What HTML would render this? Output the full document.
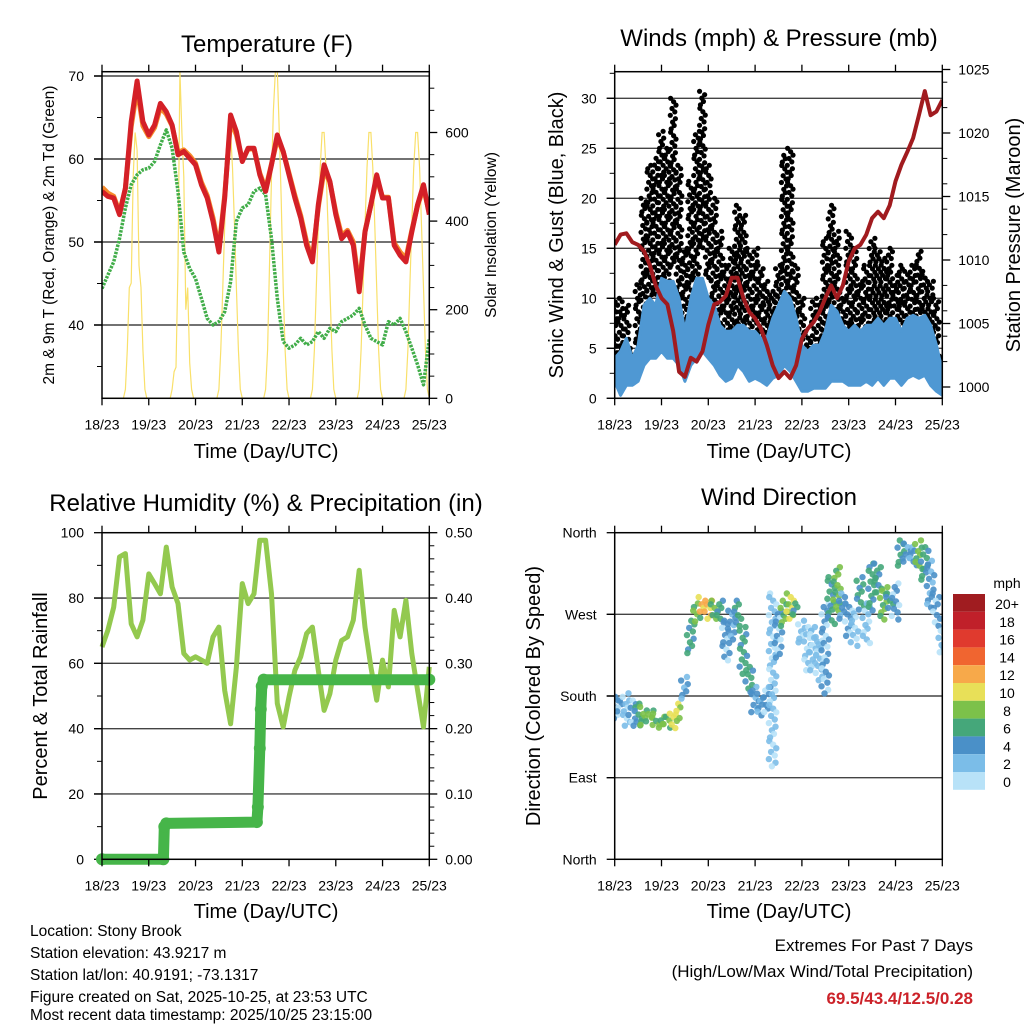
<!DOCTYPE html>
<html><head><meta charset="utf-8"><style>
html,body{margin:0;padding:0;background:#fff;}
svg{display:block;font-family:"Liberation Sans",sans-serif;}
</style></head><body>
<svg id="chart" width="1024" height="1024" viewBox="0 0 1024 1024" xmlns="http://www.w3.org/2000/svg">
<defs>
<clipPath id="c1"><rect x="102" y="71.7" width="327.3" height="326.6"/></clipPath>
<clipPath id="c2"><rect x="614.7" y="71.7" width="327.6" height="326.6"/></clipPath>
<clipPath id="c3"><rect x="96" y="526" width="340" height="340"/></clipPath>
<clipPath id="c4"><rect x="614.7" y="532.7" width="327.6" height="326.6"/></clipPath>
</defs>
<text x="267" y="52" font-size="24" text-anchor="middle">Temperature (F)</text>
<text x="779" y="46" font-size="24" text-anchor="middle">Winds (mph) &amp; Pressure (mb)</text>
<text x="266" y="511" font-size="24" text-anchor="middle">Relative Humidity (%) &amp; Precipitation (in)</text>
<text x="779" y="505" font-size="24" text-anchor="middle">Wind Direction</text>
<text x="266" y="458" font-size="20" text-anchor="middle">Time (Day/UTC)</text>
<text x="779" y="458" font-size="20" text-anchor="middle">Time (Day/UTC)</text>
<text x="266" y="918" font-size="20" text-anchor="middle">Time (Day/UTC)</text>
<text x="779" y="918" font-size="20" text-anchor="middle">Time (Day/UTC)</text>
<text transform="translate(54,235) rotate(-90)" font-size="15.5" text-anchor="middle">2m &amp; 9m T (Red, Orange) &amp; 2m Td (Green)</text>
<text transform="translate(496,235) rotate(-90)" font-size="15.5" text-anchor="middle">Solar Insolation (Yellow)</text>
<text transform="translate(563,235) rotate(-90)" font-size="20" text-anchor="middle">Sonic Wind &amp; Gust (Blue, Black)</text>
<text transform="translate(1020,235) rotate(-90)" font-size="20" text-anchor="middle">Station Pressure (Maroon)</text>
<text transform="translate(47,696) rotate(-90)" font-size="20" text-anchor="middle">Percent &amp; Total Rainfall</text>
<text transform="translate(540,696) rotate(-90)" font-size="20" text-anchor="middle">Direction (Colored By Speed)</text>
<g font-size="15.5">
<text x="30" y="936">Location: Stony Brook</text>
<text x="30" y="958">Station elevation: 43.9217 m</text>
<text x="30" y="980">Station lat/lon: 40.9191; -73.1317</text>
<text x="30" y="1002">Figure created on Sat, 2025-10-25, at 23:53 UTC</text>
<text x="30" y="1024" dy="-4">Most recent data timestamp: 2025/10/25 23:15:00</text>
</g>
<text x="973" y="951" font-size="17" text-anchor="end">Extremes For Past 7 Days</text>
<text x="973" y="977" font-size="17" text-anchor="end">(High/Low/Max Wind/Total Precipitation)</text>
<text x="973" y="1004" font-size="17" font-weight="bold" fill="#cc2229" text-anchor="end">69.5/43.4/12.5/0.28</text>
<text x="1007" y="588" font-size="14" text-anchor="middle">mph</text>
</svg>
<script>
const times=[0,3,6,9,12,15,18,21,24,27,30,33,36,39,42,45,48,51,54,57,60,63,66,69,72,75,78,81,84,87,90,93,96,99,102,105,108,111,114,117,120,123,126,129,132,135,138,141,144,147,150,153,156,159,162,165,168];
const dayLabels=["18/23","19/23","20/23","21/23","22/23","23/23","24/23","25/23"];
const temp2m=[56.1,55.5,55.3,53.3,56.5,64.5,69.4,64.5,62.9,64.1,66.7,65.7,64.1,60.5,60.9,60.1,59.3,56.9,55.3,52.5,48.8,55.3,65.3,63.3,59.7,61.3,61.3,58.1,56.1,59.3,62.9,60.9,58.1,55.3,52.9,49.6,47.6,54.5,59.3,57.3,53.3,50.4,51.2,49.6,44.0,51.2,54.5,58.1,55.3,55.3,49.6,48.4,47.6,51.2,54.5,56.9,53.3];
const temp9m=[56.6,55.9,55.5,53.6,56.4,63.9,68.5,64.0,62.7,63.8,66.2,65.4,64.0,60.8,61.1,60.4,59.5,57.2,55.6,52.9,49.2,55.6,64.6,62.9,59.8,61.2,61.2,58.3,56.4,59.4,62.4,60.9,58.3,55.6,53.2,50.0,48.0,54.2,58.7,57.2,53.6,50.8,51.4,50.0,44.6,51.3,54.5,57.7,55.4,55.4,49.9,48.8,48.0,51.4,54.4,56.5,53.5];
const dewpt=[44.4,46.0,47.6,50.4,54.1,56.9,58.1,58.7,58.9,59.7,61.7,63.5,61.3,56.1,48.8,46.8,45.6,43.2,40.8,40.0,40.4,41.6,45.2,52.5,54.1,54.5,56.1,56.5,55.7,50.4,43.2,38.0,37.2,37.6,38.4,37.6,38.0,39.2,38.4,39.6,39.2,40.4,40.8,41.2,42.0,40.0,38.4,38.0,37.6,40.4,40.0,40.8,39.2,37.2,35.2,32.8,38.4];
const solar=[0,0,0,0,0,0,0,0,0,0,0,0,
20,110,250,260,500,600,560,300,250,110,20,0,
0,0,0,0,0,0,0,0,0,0,0,0,
20,60,70,300,740,600,500,200,250,80,20,0,
0,0,0,0,0,0,0,0,0,0,0,0,
20,110,250,390,520,600,600,520,390,250,110,20,
0,0,0,0,0,0,0,0,0,0,0,0,
20,110,300,500,650,740,740,600,450,250,110,20,
0,0,0,0,0,0,0,0,0,0,0,0,
20,110,250,390,520,600,600,520,390,250,110,20,
0,0,0,0,0,0,0,0,0,0,0,0,
20,110,250,390,520,600,600,520,390,250,110,20,
0,0,0,0,0,0,0,0,0,0,0,0,
20,110,250,390,520,600,600,520,390,250,110,20,0];
const windHi=[4.0,4.7,6.0,4.0,5.3,9.3,10.0,9.3,12.0,11.7,11.7,10.0,6.7,10.0,12.0,12.0,10.0,9.3,7.3,6.7,6.7,7.3,7.3,6.7,6.7,6.0,6.0,8.0,9.3,10.7,10.0,8.0,5.3,4.7,5.3,5.3,6.7,9.3,8.7,7.3,6.7,7.3,6.7,7.3,7.3,8.0,7.3,8.0,8.0,6.7,8.0,8.3,8.0,8.3,7.3,5.3,2.7];
const windLo=[1.7,0.3,1.3,1.3,1.7,3.3,4.0,4.0,4.7,4.0,4.0,3.3,1.7,3.3,4.0,4.7,4.0,3.3,2.3,1.7,2.0,3.3,2.7,1.7,2.0,1.7,1.3,2.0,2.3,3.3,2.7,1.7,0.7,0.7,1.0,1.0,1.0,1.7,1.7,1.7,1.3,1.3,1.3,1.7,1.3,2.0,1.3,2.0,2.0,1.3,2.0,2.3,2.0,2.3,1.3,0.7,0.3];
const gustHi=[10,10,9.3,5,11.7,20,23.3,24,26.7,25,30,23.3,15,21.7,26.7,30.7,23.3,20,16.7,13.3,15,19.3,18.3,15,15,13.3,11.7,10.7,13.3,24.3,25,13.3,10,6.7,10,10,16,19.3,16.7,10,16.7,15,11.7,13.3,16,15,14,15,12.3,13.3,12.7,13.3,14.7,12.7,11.7,10,4];
const gustLo=[4,1.7,1.3,3.7,3.3,5,8.3,10,10,11.7,13.3,10,5,8.3,11.7,15,11.7,8.3,6,5,5,6.7,6.7,5,5,5,4,3.3,4,8.3,10,3.3,2.7,2.3,3.3,2.7,5,6.7,5.7,3.3,5,4.3,4,4.7,5.7,5,4.7,5,4,4,4.3,4.7,5,4.3,4,3.3,2];
const pressure=[1011.2,1012.0,1012.1,1011.4,1011.2,1010.7,1009.6,1008.0,1007.0,1006.5,1004.4,1001.2,1000.8,1002.3,1002.0,1002.8,1004.9,1006.5,1006.7,1007.2,1008.6,1008.6,1007.0,1005.9,1005.4,1004.6,1003.3,1001.7,1000.7,1001.2,1000.7,1001.7,1003.8,1004.6,1005.1,1005.9,1007.0,1008.0,1007.0,1008.0,1009.9,1010.9,1011.2,1012.0,1013.3,1013.8,1013.3,1014.3,1016.2,1017.5,1018.5,1019.6,1021.4,1023.3,1021.4,1021.7,1022.6];
const relHum=[65,70.1,77.2,92.6,93.6,72.1,68.1,73.2,87.4,84.4,81.3,95.6,83.4,78.3,63,61,62,61,60,68.1,71.1,51.7,41.5,58.9,84.4,78.3,81.3,97.7,97.7,81.3,47.7,40.5,49.7,57.9,62,69.1,71.1,57.9,45.6,50.7,61,67,68.1,73.2,88.5,71.1,58.9,48.7,61,52.8,76.2,68.1,79.3,63,51.7,40.5,58.9];
const precipTimes=[0,31.5,32,33,79.5,80,81,81.5,82,83,168];
const precipVals=[0,0,0.05,0.055,0.057,0.08,0.17,0.23,0.265,0.275,0.275];
const dirLo=[153,160.5,146,146,146,146,146,146,142,142,142,153,175,226.6,260,271,263,263,260,219,238,256,201,182.5,160.5,157,160.5,100,219,256,263,267,238,204.6,208,197,182.5,256,271,263,245,234,274,238,271,293,263,274,263,322,326,322,318,307,274,256,226.6];
const dirHi=[183,175,183,175,171.5,168,164,160.5,157,157,160.5,171.5,201,263,282,289,285,285,285,263,274,285,256,212,190,182.5,190,293,274,285,293,282,263,256,256,245,282,311,322,293,282,271,311,282,326,326,300,293,304,351.5,348,344,351.5,344,329,293,256];
const dirSpeed=[3,3,2,3,6,8,8,8,8,8,10,10,4,6,8,11,12,7,6,3,4,5,6,5,4,4,3,2.5,3,7,10,6,2,2,2,2,3,6,7,4,3,2,6,2,6,6,7,5,3,6,4,4,7,6,4,3,2];
const tempTicks=[40,50,60,70];
const solarTicks=[0,200,400,600];
const windTicks=[0,5,10,15,20,25,30];
const pressTicks=[1000,1005,1010,1015,1020,1025];
const rhTicks=[0,20,40,60,80,100];
const precipTicks=["0.00","0.10","0.20","0.30","0.40","0.50"];
const dirTicks=[0,90,180,270,360];
const dirLabels=["North","East","South","West","North"];
const speedBins=["0","2","4","6","8","10","12","14","16","18","20+"];
const speedColors=["#b8e2f8","#7bbde8","#4a90c8","#45a77a","#7cc14a","#e8e058","#f7a94a","#f06530","#e03a2e","#c0202a","#a01c20"];

const NS="http://www.w3.org/2000/svg";
const svg=document.getElementById('chart');
function mk(tag,attrs,parent){const e=document.createElementNS(NS,tag);for(const k in attrs)e.setAttribute(k,attrs[k]);(parent||svg).appendChild(e);return e;}
const xL=t=>102+t*327.3/168;
const xR=t=>614.7+t*327.6/168;
const yT=v=>159-(v-60)*8.3;
const ySol=v=>398.3-v*0.443;
const yW=v=>398.3-v*10;
const yP=v=>387-(v-1000)*12.7;
const yRH=v=>859.3-v*3.266;
const yPr=v=>859.3-v*653.2;
const yD=v=>859.3-v*0.9072;
const jitter=[-2.6,0.4,2.8,-1.2,1.6,-2.9,2.2,-0.6,1.0,-2.0];
function speedColor(s){let i=Math.min(10,Math.floor(s/2+0.5));if(s<1.5)i=0;return speedColors[i];}

function panel(x0,y0,x1,y1,xf,name){
  const g=mk('g',{});
  
  
  dayLabels.forEach((lb,i)=>{
    const x=xf(i*24);
    const tb=mk('line',{x1:x,x2:x,y1:y1,y2:y1+7,stroke:'#000','stroke-width':1.3},g);
    
    
    const tt=mk('line',{x1:x,x2:x,y1:y0,y2:y0-7,stroke:'#000','stroke-width':1.3},g);
    
    
    const tx=mk('text',{x:x,y:y1+31,'font-size':14,'text-anchor':'middle'},g);
    tx.textContent=lb;
    
    
  });
  return g;
}
function frame(x0,y0,x1,y1,name){
  const r=mk('rect',{x:x0,y:y0,width:x1-x0,height:y1-y0,fill:'none',stroke:'#000','stroke-width':1.5});
  
  
}
function yAxis(ticks,labels,yf,x0,x1,side,grid,minors,name){
  const g=mk('g',{});
  
  
  minors.forEach(v=>{
    const y=yf(v);
    const xa=side==='left'?x0:x1;
    const m=mk('line',{x1:xa,x2:side==='left'?xa-5:xa+5,y1:y,y2:y,stroke:'#000','stroke-width':1},g);
    
    
  });
  ticks.forEach((v,i)=>{
    const y=yf(v);
    if(grid){
      const gl=mk('line',{x1:x0-8,x2:x1,y1:y,y2:y,stroke:'#222','stroke-width':1.4,'stroke-opacity':0.85},g);
      
      
    }
    const xa=side==='left'?x0:x1;
    const t=mk('line',{x1:xa,x2:side==='left'?xa-8:xa+8,y1:y,y2:y,stroke:'#000','stroke-width':1.3},g);
    
    
    const tx=mk('text',{x:side==='left'?x0-18:x1+16,y:y+5,'font-size':14,'text-anchor':side==='left'?'end':'start'},g);
    tx.textContent=labels[i];
    
    
  });
}
function polyPts(xs,ys,xf,yf){return xs.map((t,i)=>xf(t).toFixed(1)+','+yf(ys[i]).toFixed(1)).join(' ');}

// ---------- Panel 1: temperature ----------
const P1={x0:102,y0:71.7,x1:429.3,y1:398.3};
yAxis(tempTicks,tempTicks.map(String),yT,P1.x0,P1.x1,'left',true,[35,45,55,65],'temperature-y-axis');
yAxis(solarTicks,solarTicks.map(String),ySol,P1.x0,P1.x1,'right',false,[50,100,150,250,300,350,450,500,550,650,700],'solar-y-axis');
const g1=mk('g',{'clip-path':'url(#c1)'});


const solarHours=solar.map((v,i)=>i);
const sl=mk('polyline',{points:polyPts(solarHours,solar,xL,ySol),fill:'none',stroke:'#f9e06a','stroke-width':1.2},g1);


const dl=mk('polyline',{points:polyPts(times,dewpt,xL,yT),fill:'none',stroke:'#41ad49','stroke-width':3.5,'stroke-dasharray':'2.5 1.2','stroke-linejoin':'round'},g1);


const ol=mk('polyline',{points:polyPts(times,temp9m,xL,yT),fill:'none',stroke:'#f68b2c','stroke-width':5,'stroke-linejoin':'round'},g1);


const rl=mk('polyline',{points:polyPts(times,temp2m,xL,yT),fill:'none',stroke:'#d42027','stroke-width':5,'stroke-linejoin':'round'},g1);


panel(P1.x0,P1.y0,P1.x1,P1.y1,xL,'temperature');
frame(P1.x0,P1.y0,P1.x1,P1.y1,'temperature');

// ---------- Panel 2: winds ----------
const P2={x0:614.7,y0:71.7,x1:942.3,y1:398.3};
yAxis(windTicks,windTicks.map(String),yW,P2.x0,P2.x1,'left',true,[2.5,7.5,12.5,17.5,22.5,27.5,32.5],'wind-y-axis');
yAxis(pressTicks,pressTicks.map(String),yP,P2.x0,P2.x1,'right',false,[1002,1004,1006,1008,1012,1014,1016,1018,1022,1024],'pressure-y-axis');
const g2=mk('g',{'clip-path':'url(#c2)'});


times.forEach((t,i)=>{
  const x=xR(t);
  let k=i*3;
  for(let y=yW(gustHi[i]);y<=yW(gustLo[i]);y+=3.4){
    const c=mk('circle',{cx:x+jitter[k%jitter.length],cy:y,r:2.6,fill:'#000'},g2);
    
    
    k++;
  }
});
const wTopPts=times.map((t,i)=>xR(t).toFixed(1)+','+yW(windHi[i]).toFixed(1));
const wBotPts=times.map((t,i)=>xR(t).toFixed(1)+','+yW(windLo[i]).toFixed(1)).reverse();
const wa=mk('polygon',{points:wTopPts.concat(wBotPts).join(' '),fill:'#4f98d3',stroke:'#4f98d3','stroke-width':3,'stroke-linejoin':'round'},g2);


const pl=mk('polyline',{points:polyPts(times,pressure,xR,yP),fill:'none',stroke:'#a11b1f','stroke-width':4,'stroke-linejoin':'round'},g2);


panel(P2.x0,P2.y0,P2.x1,P2.y1,xR,'winds');
frame(P2.x0,P2.y0,P2.x1,P2.y1,'winds');

// ---------- Panel 3: humidity ----------
const P3={x0:102,y0:532.7,x1:429.3,y1:859.3};
yAxis(rhTicks.slice(1,5),rhTicks.slice(1,5).map(String),yRH,P3.x0,P3.x1,'left',true,[],'humidity-grid');
yAxis([0,100],["0","100"],yRH,P3.x0,P3.x1,'left',false,[10,30,50,70,90],'humidity-y-axis');
yAxis(precipTicks.map(Number),precipTicks,yPr,P3.x0,P3.x1,'right',false,[0.02,0.04,0.06,0.08,0.12,0.14,0.16,0.18,0.22,0.24,0.26,0.28,0.32,0.34,0.36,0.38,0.42,0.44,0.46,0.48],'precip-y-axis');
const g3=mk('g',{'clip-path':'url(#c3)'});


const hl=mk('polyline',{points:polyPts(times,relHum,xL,yRH),fill:'none',stroke:'#93c94f','stroke-width':5,'stroke-linejoin':'round'},g3);


const prl=mk('polyline',{points:polyPts(precipTimes,precipVals,xL,yPr),fill:'none',stroke:'#46b549','stroke-width':11,'stroke-linejoin':'round','stroke-linecap':'round'},g3);


precipTimes.forEach((t,i)=>{
  const c=mk('circle',{cx:xL(t),cy:yPr(precipVals[i]),r:6,fill:'#46b549'},g3);
  
  
});
panel(P3.x0,P3.y0,P3.x1,P3.y1,xL,'humidity');
frame(P3.x0,P3.y0,P3.x1,P3.y1,'humidity');

// ---------- Panel 4: direction ----------
const P4={x0:614.7,y0:532.7,x1:942.3,y1:859.3};
yAxis(dirTicks.slice(1,4),dirLabels.slice(1,4),yD,P4.x0,P4.x1,'left',true,[],'direction-grid');
yAxis([0,360],["North","North"],yD,P4.x0,P4.x1,'left',false,[],'direction-y-axis');
const g4=mk('g',{'clip-path':'url(#c4)'});


times.forEach((t,i)=>{
  const x=xR(t);
  let k=i*7;
  for(let y=yD(dirHi[i]);y<=yD(dirLo[i]);y+=3.6){
    const col=(k%3===0)?speedColor(Math.max(0,dirSpeed[i]-2)):speedColor(dirSpeed[i]);
    const c=mk('circle',{cx:x+jitter[k%jitter.length]*1.3,cy:y,r:3.2,fill:col,'fill-opacity':0.9},g4);
    
    
    k++;
  }
});
panel(P4.x0,P4.y0,P4.x1,P4.y1,xR,'direction');
frame(P4.x0,P4.y0,P4.x1,P4.y1,'direction');

speedBins.forEach((lb,i)=>{
  const idx=speedBins.length-1-i;
  const y=594+i*17.8;
  const r=mk('rect',{x:953,y:y,width:32,height:17.8,fill:speedColors[idx]});
  
  
  const tx=mk('text',{x:1007,y:y+15,'font-size':14,'text-anchor':'middle'});
  tx.textContent=speedBins[idx];
  
  
});
</script>
</body></html>
